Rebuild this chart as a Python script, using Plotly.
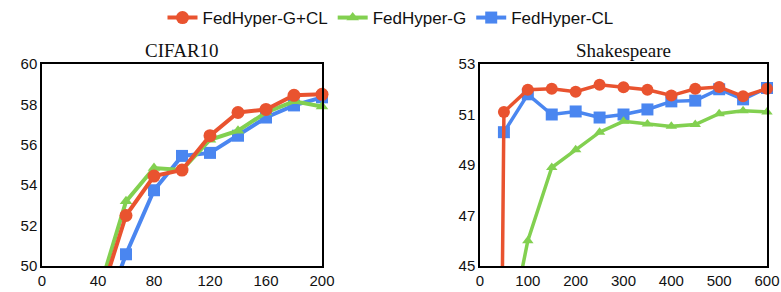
import plotly.graph_objects as go

# CIFAR10
cifar_x = [40, 60, 80, 100, 120, 140, 160, 180, 200]
cifar_gcl = [48.1, 52.5, 54.45, 54.75, 56.45, 57.6, 57.75, 58.45, 58.5]
cifar_g = [48.6, 53.2, 54.85, 54.75, 56.25, 56.7, 57.6, 58.15, 57.9]
cifar_cl = [46.8, 50.58, 53.75, 55.45, 55.6, 56.45, 57.35, 57.95, 58.35]

# Shakespeare
shk_x_gcl = [40, 50, 100, 150, 200, 250, 300, 350, 400, 450, 500, 550, 600]
shk_gcl = [31.0, 51.1, 51.98, 52.02, 51.9, 52.18, 52.08, 51.98, 51.75, 52.02, 52.09, 51.72, 52.02]
shk_x = [50, 100, 150, 200, 250, 300, 350, 400, 450, 500, 550, 600]
shk_g = [41.3, 46.0, 48.9, 49.6, 50.3, 50.73, 50.62, 50.53, 50.6, 51.03, 51.15, 51.1]
shk_cl = [50.3, 51.8, 51.0, 51.12, 50.88, 51.0, 51.2, 51.52, 51.55, 52.0, 51.6, 52.05]

names = ["FedHyper-G+CL", "FedHyper-G", "FedHyper-CL"]
colors = ["#E9532F", "#82D050", "#4A86F0"]
symbols = ["circle", "triangle-up", "square"]

fig = go.Figure()

left = [(cifar_x, cifar_gcl), (cifar_x, cifar_g), (cifar_x, cifar_cl)]
right = [(shk_x_gcl, shk_gcl), (shk_x, shk_g), (shk_x, shk_cl)]
msize_l = [13, 11, 12]
msize_r = [12, 10, 12]

for i in [2, 1, 0]:
    fig.add_trace(go.Scatter(
        x=left[i][0], y=left[i][1], mode="lines+markers", name=names[i],
        line=dict(color=colors[i], width=4),
        marker=dict(color=colors[i], symbol=symbols[i], size=msize_l[i]),
        cliponaxis=False, legendrank=i + 1, showlegend=True,
        xaxis="x", yaxis="y"))
    fig.add_trace(go.Scatter(
        x=right[i][0], y=right[i][1], mode="lines+markers", name=names[i],
        line=dict(color=colors[i], width=3.5),
        marker=dict(color=colors[i], symbol=symbols[i], size=msize_r[i]),
        cliponaxis=False, showlegend=False,
        xaxis="x2", yaxis="y2"))

W, H = 781, 292
ydom = [(H - 266) / H, (H - 64) / H]
axis_common = dict(showgrid=False, zeroline=False, showline=True, mirror=True,
                   linecolor="black", linewidth=1.5, ticks="",
                   tickfont=dict(family="Liberation Sans, Arial", size=15, color="#111"),
                   automargin=False)

fig.update_layout(
    width=W, height=H,
    margin=dict(l=0, r=0, t=0, b=0),
    paper_bgcolor="white", plot_bgcolor="white",
    xaxis=dict(domain=[42 / W, 322 / W], range=[0, 200], tickvals=[0, 40, 80, 120, 160, 200],
               anchor="y", **axis_common),
    yaxis=dict(domain=ydom, range=[50, 60], tickvals=[50, 52, 54, 56, 58, 60],
               anchor="x", **axis_common),
    xaxis2=dict(domain=[480 / W, 767 / W], range=[0, 600], tickvals=[0, 100, 200, 300, 400, 500, 600],
                anchor="y2", **axis_common),
    yaxis2=dict(domain=ydom, range=[45, 53], tickvals=[45, 47, 49, 51, 53],
                anchor="x2", **axis_common),
    legend=dict(orientation="h", x=0.5, xanchor="center", y=1.0, yanchor="top",
                font=dict(family="Liberation Sans, Arial", size=17, color="#111"),
                itemwidth=30, bgcolor="rgba(0,0,0,0)"),
    showlegend=True,
    annotations=[
        dict(text="CIFAR10", x=(42 + 322) / 2 / W, y=(H - 50) / H, xref="paper", yref="paper",
             showarrow=False, font=dict(family="Liberation Serif", size=19, color="#111"),
             xanchor="center", yanchor="middle"),
        dict(text="Shakespeare", x=(480 + 767) / 2 / W, y=(H - 50) / H, xref="paper", yref="paper",
             showarrow=False, font=dict(family="Liberation Serif", size=19, color="#111"),
             xanchor="center", yanchor="middle"),
    ],
)

fig.write_html("out.html", config={"displayModeBar": False},
               post_script="document.body.style.margin='0';document.body.style.overflow='hidden';")
